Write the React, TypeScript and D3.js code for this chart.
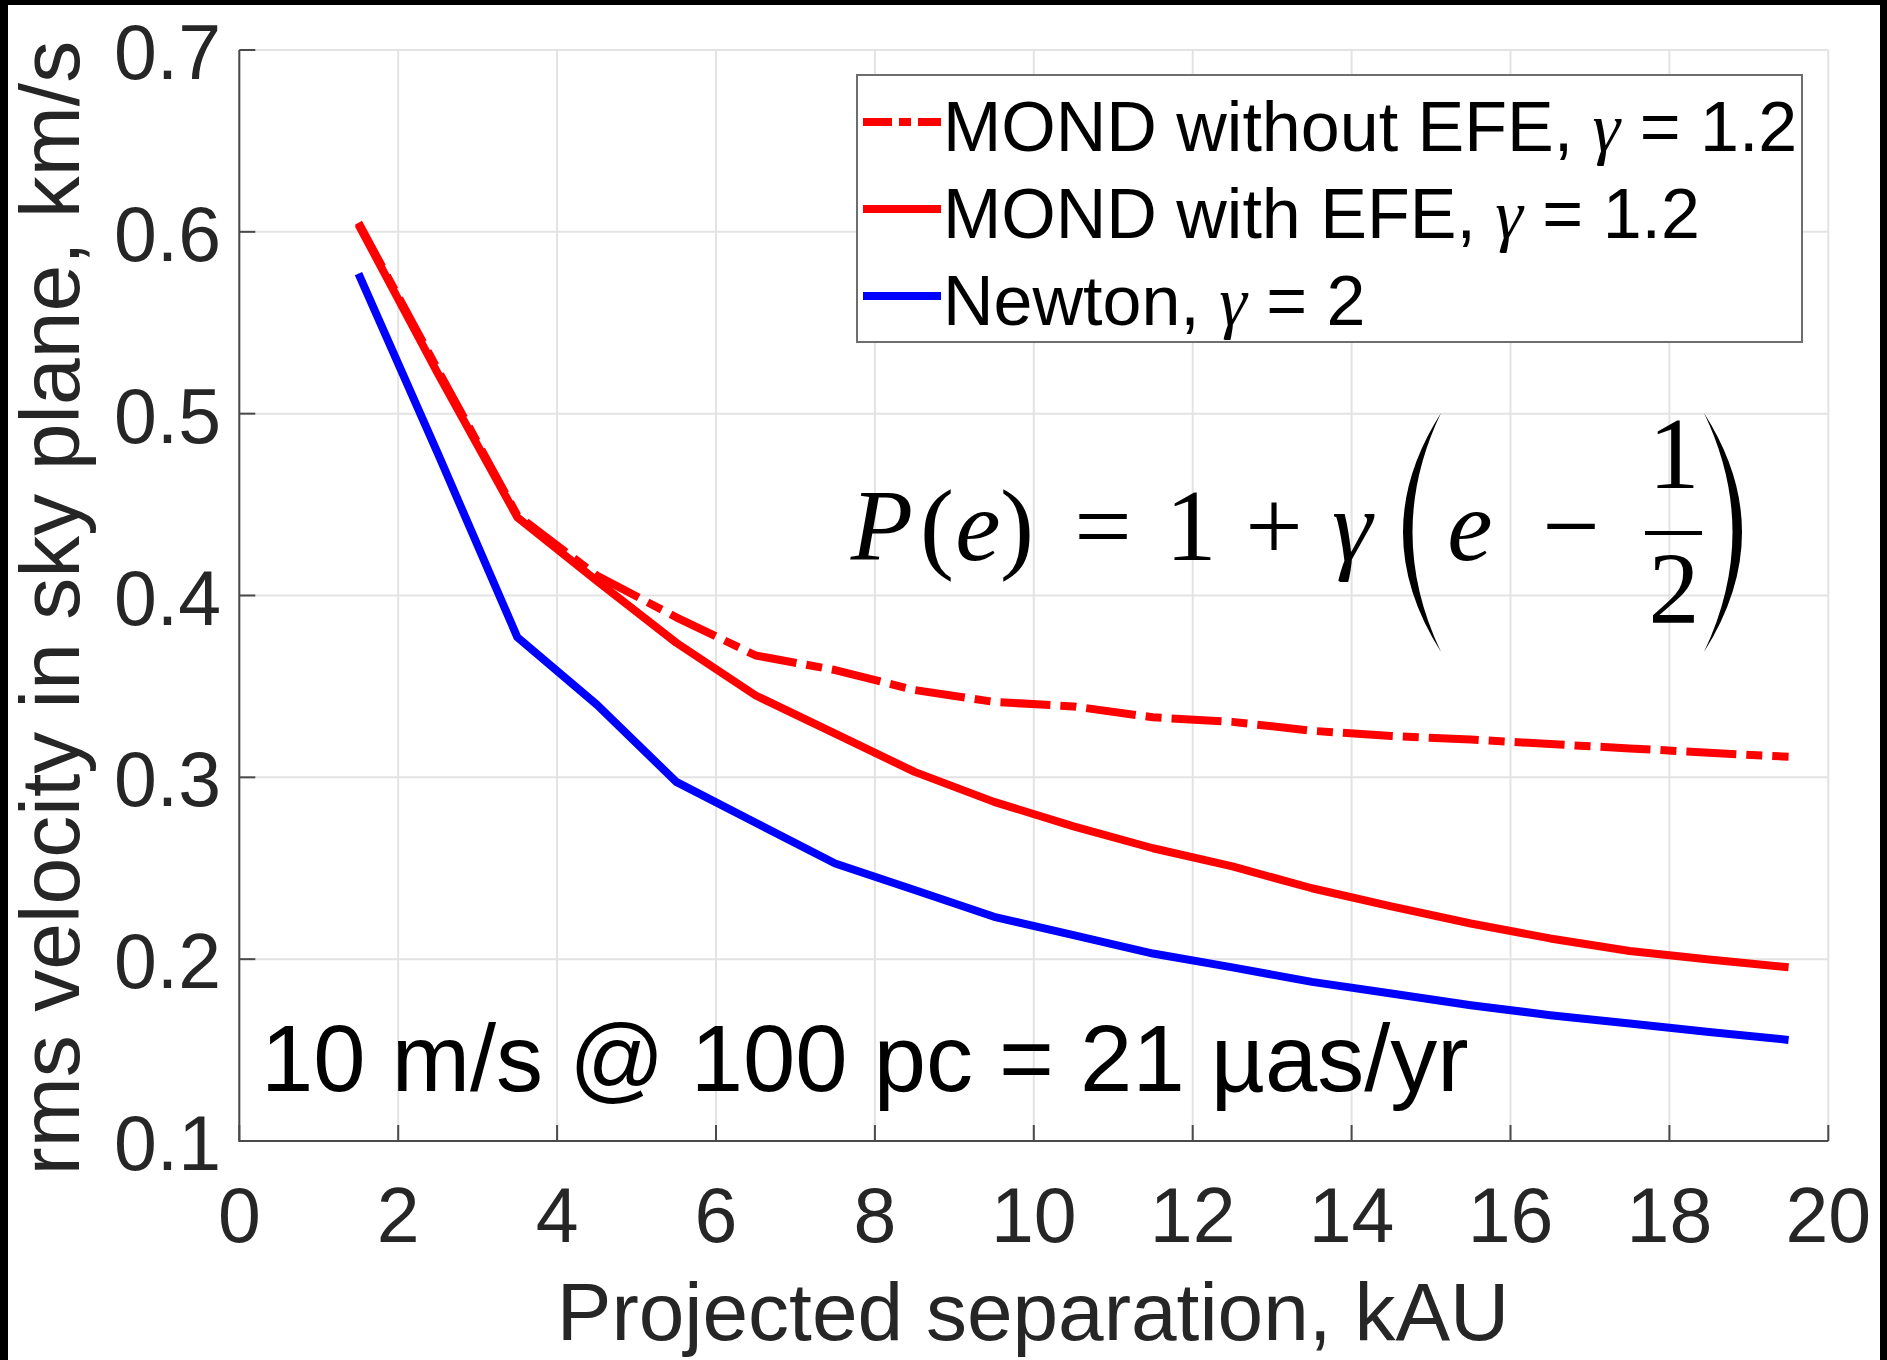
import React from 'react'
import * as d3 from 'd3'

// projected separation bins, kAU
const separation = [1.5, 2.5, 3.5, 4.5, 5.5, 6.5, 7.5, 8.5, 9.5, 10.5, 11.5, 12.5, 13.5, 14.5, 15.5, 16.5, 17.5, 18.5, 19.5]

// rms sky-plane velocity, km/s
const mondWithoutEfe = [0.605, 0.524, 0.444, 0.411, 0.388, 0.367, 0.359, 0.348, 0.3415, 0.339, 0.333, 0.3305, 0.3256, 0.3227, 0.3208, 0.3183, 0.3159, 0.3135, 0.3113]
const mondWithEfe = [0.604, 0.522, 0.443, 0.408, 0.374, 0.345, 0.324, 0.303, 0.2865, 0.273, 0.261, 0.251, 0.239, 0.229, 0.2196, 0.2114, 0.2045, 0.1998, 0.1955]
const newton = [0.577, 0.478, 0.377, 0.34, 0.2975, 0.275, 0.2526, 0.238, 0.2233, 0.2132, 0.2031, 0.1955, 0.1875, 0.1811, 0.1747, 0.1692, 0.1646, 0.16, 0.1556]

const xTicks = [0, 2, 4, 6, 8, 10, 12, 14, 16, 18, 20]
const yTicks = [0.1, 0.2, 0.3, 0.4, 0.5, 0.6, 0.7]

const legendNames = ['MOND without EFE, ', 'MOND with EFE, ', 'Newton, ']
const legendGammas = ['1.2', '1.2', '2']

const width = 1887
const height = 1360
const sans = '"Liberation Sans", Arial, Helvetica, sans-serif'
const serif = '"Liberation Serif", "Times New Roman", serif'
const dashDot = '50 10 16 10'

const series = [
  { values: mondWithoutEfe, color: '#ff0000', dash: dashDot },
  { values: mondWithEfe, color: '#ff0000', dash: undefined },
  { values: newton, color: '#0000ff', dash: undefined },
]

export default function App() {
  const x = d3.scaleLinear().domain([0, 20]).range([239.3, 1828.3])
  const y = d3.scaleLinear().domain([0.1, 0.7]).range([1141, 50])

  const line = (vals: number[]) =>
    d3.line<number>()
      .x((_, i) => x(separation[i]))
      .y((d) => y(d))(vals) || ''

  const [x0, x1] = x.range()
  const [yb, yt] = y.range()

  // legend box
  const lg = { x: 857, y: 75, w: 945, h: 267 }
  const rowY = [122, 209, 296]

  return (
    <svg width={width} height={height} style={{ position: 'absolute', left: 0, top: 0, background: '#fff' }}>
      <rect x={0} y={0} width={width} height={height} fill="#fff" />

      {/* grid */}
      <g stroke="#e3e3e3" strokeWidth={2}>
        {xTicks.map((t) => (
          <line key={'gx' + t} x1={x(t)} x2={x(t)} y1={yb} y2={yt} />
        ))}
        {yTicks.map((t) => (
          <line key={'gy' + t} x1={x0} x2={x1} y1={y(t)} y2={y(t)} />
        ))}
      </g>

      {/* axes */}
      <g stroke="#4a4a4a" strokeWidth={2}>
        <line x1={x0} x2={x0} y1={yt} y2={yb + 1} />
        <line x1={x0} x2={x1} y1={yb} y2={yb} />
        {xTicks.map((t) => (
          <line key={'tx' + t} x1={x(t)} x2={x(t)} y1={yb} y2={yb - 16} />
        ))}
        {yTicks.map((t) => (
          <line key={'ty' + t} x1={x0} x2={x0 + 16} y1={y(t)} y2={y(t)} />
        ))}
      </g>

      {/* tick labels */}
      <g fontFamily={sans} fontSize={77} fill="#262626">
        {xTicks.map((t) => (
          <text key={'lx' + t} x={x(t)} y={1242} textAnchor="middle">{t}</text>
        ))}
        {yTicks.map((t) => (
          <text key={'ly' + t} x={221} y={y(t) + 29} textAnchor="end">{d3.format('.1f')(t)}</text>
        ))}
      </g>

      {/* axis titles */}
      <text x={1033} y={1340} textAnchor="middle" fontFamily={sans} fontSize={82} fill="#262626">
        Projected separation, kAU
      </text>
      <text transform="translate(79, 608) rotate(-90)" textAnchor="middle" fontFamily={sans} fontSize={84} fill="#262626">
        rms velocity in sky plane, km/s
      </text>

      {/* data */}
      <g fill="none" strokeWidth={8} strokeLinejoin="round">
        {series.map((s, i) => (
          <path key={'s' + i} d={line(s.values)} stroke={s.color} strokeDasharray={s.dash} />
        ))}
      </g>

      {/* annotation */}
      <text x={261} y={1091} fontFamily={sans} fontSize={94} fill="#000">
        10 m/s @ 100 pc = 21 µas/yr
      </text>

      {/* formula P(e) = 1 + γ(e − 1/2) */}
      <g fontFamily={serif} fontSize={102} fill="#000" textAnchor="middle">
        <text x={882} y={560} fontStyle="italic">P</text>
        <text x={937} y={560}>(</text>
        <text x={978} y={560} fontStyle="italic">e</text>
        <text x={1017} y={560}>)</text>
        <text x={1103} y={560}>=</text>
        <text x={1191} y={560}>1</text>
        <text x={1274} y={560}>+</text>
        <text x={1352} y={560} fontStyle="italic">γ</text>
        <text x={1470} y={560} fontStyle="italic">e</text>
        <text x={1571} y={560}>−</text>
        <text x={1674} y={488}>1</text>
        <text x={1674} y={623}>2</text>
      </g>
      <rect x={1645} y={531} width={57} height={4} fill="#000" />
      <path d="M1441,413 Q1365,532 1441,652 Q1384,532 1441,413 Z" fill="#000" />
      <path d="M1704,413 Q1780,532 1704,652 Q1761,532 1704,413 Z" fill="#000" />

      {/* legend */}
      <rect x={lg.x} y={lg.y} width={lg.w} height={lg.h} fill="#fff" stroke="#6e6e6e" strokeWidth={2} />
      {series.map((s, i) => (
        <g key={'lg' + i}>
          <line x1={863} x2={941} y1={rowY[i]} y2={rowY[i]} stroke={s.color} strokeWidth={8} strokeDasharray={s.dash ? '29 7 12 7' : undefined} />
          <text x={943} y={rowY[i] + 29} fontFamily={sans} fontSize={70} fill="#000">
            {legendNames[i]}
            <tspan fontFamily={serif} fontStyle="italic">γ</tspan>
            {' = ' + legendGammas[i]}
          </text>
        </g>
      ))}

      {/* black frame */}
      <rect x={0} y={0} width={8} height={height} fill="#000" />
      <rect x={0} y={0} width={width} height={5} fill="#000" />
      <rect x={width - 7} y={0} width={7} height={height} fill="#000" />
    </svg>
  )
}
